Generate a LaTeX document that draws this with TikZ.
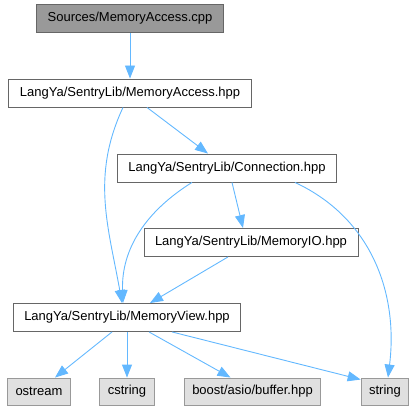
\documentclass[tikz,border=0pt]{standalone}
\usepackage{fontspec}
\setmainfont{Liberation Sans}
\usetikzlibrary{arrows.meta}
\definecolor{edgeblue}{HTML}{63B8FF}
\definecolor{boxline}{HTML}{666666}
\definecolor{extline}{HTML}{999999}
\definecolor{extfill}{HTML}{E0E0E0}
\definecolor{srcfill}{HTML}{999999}
\begin{document}
\begin{tikzpicture}[x=1pt,y=-1pt,
  every node/.style={font=\fontsize{13}{15}\selectfont,minimum height=28pt,inner xsep=11pt,inner ysep=0pt},
  hdr/.style={draw=boxline,fill=white,line width=0.9pt},
  src/.style={draw=boxline,fill=srcfill,line width=0.9pt},
  ext/.style={draw=extline,fill=extfill,line width=0.9pt,minimum height=27pt,inner xsep=8pt},
  inc/.style={draw=edgeblue,line width=0.9pt,-{Triangle[length=13pt,width=10pt]}}]
  \useasboundingbox (0,0) rectangle (417,411);
  \node[src] (cpp) at (130,18.5) {Sources/MemoryAccess.cpp};
  \node[hdr] (ma) at (130,93) {LangYa/SentryLib/MemoryAccess.hpp};
  \node[hdr] (conn) at (227,168) {LangYa/SentryLib/Connection.hpp};
  \node[hdr] (mio) at (251,242.5) {LangYa/SentryLib/MemoryIO.hpp};
  \node[hdr] (mv) at (127,317.5) {LangYa/SentryLib/MemoryView.hpp};
  \node[ext] (ostr) at (39,391.5) {ostream};
  \node[ext] (cstr) at (127,391.5) {cstring};
  \node[ext] (buf) at (252.5,391.5) {boost/asio/buffer.hpp};
  \node[ext] (str) at (385,391.5) {string};
  % includes
  \draw[inc] (cpp) -- (ma);
  \draw[inc] ([xshift=-7pt]ma.south) to[out=245,in=100] ([xshift=-5pt]mv.north);
  \draw[inc] ([xshift=17pt]ma.south) -- ([xshift=-19pt]conn.north);
  \draw[inc] ([xshift=-35pt]conn.south) to[out=212,in=92] ([xshift=-4pt]mv.north);
  \draw[inc] ([xshift=5pt]conn.south) -- ([xshift=-8pt]mio.north);
  \draw[inc] ([xshift=68pt]conn.south) to[out=-25,in=83] ([xshift=3pt]str.north);
  \draw[inc] ([xshift=-23pt]mio.south) -- ([xshift=23pt]mv.north);
  \draw[inc] ([xshift=-15pt]mv.south) -- ([xshift=16pt]ostr.north);
  \draw[inc] (mv.south) -- (cstr.north);
  \draw[inc] ([xshift=22pt]mv.south) -- ([xshift=-22pt]buf.north);
  \draw[inc] ([xshift=45pt]mv.south) -- ([yshift=-2pt]str.north west);
\end{tikzpicture}
\end{document}
